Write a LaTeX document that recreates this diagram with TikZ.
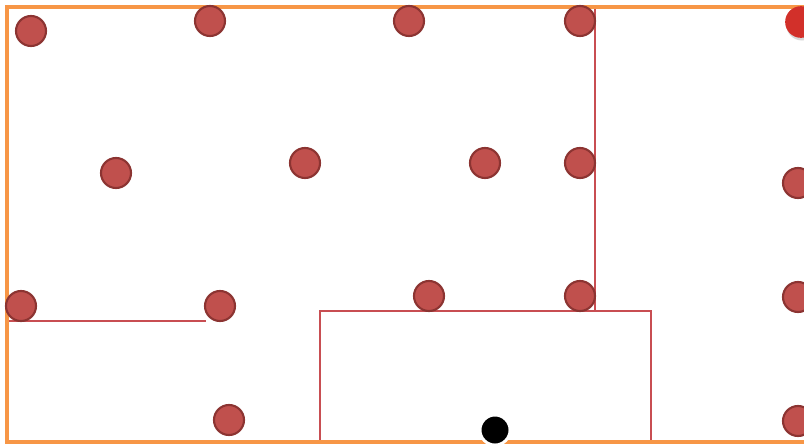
\documentclass[tikz,border=0pt]{standalone}
\usepackage{tikz}
\usetikzlibrary{shadows}
\definecolor{wallorange}{RGB}{247,150,70}
\definecolor{seatred}{RGB}{192,80,77}
\definecolor{seatdark}{RGB}{140,52,50}
\definecolor{lampred}{RGB}{210,48,42}
\definecolor{linered}{RGB}{200,78,82}
\tikzset{
    seat/.style={circle, draw=seatdark, fill=seatred, minimum size=0.9cm, inner sep=0pt, line width=1.8pt},
    lamp/.style={circle, fill=lampred, minimum size=0.95cm, inner sep=0pt, drop shadow={shadow xshift=0.03cm, shadow yshift=-0.08cm, opacity=0.3}},
    hole/.style={circle, fill=black, draw=white, minimum size=0.9cm, inner sep=0pt, line width=2.5pt},
    wall/.style={wallorange, line width=2.6pt},
    part/.style={linered, line width=1.2pt}
}
\begin{document}
\begin{tikzpicture}[x=0.03cm, y=-0.03cm]
        \clip (0,0) rectangle (804,444);
        \fill[white] (0,0) rectangle (804,444);
        % === Partitions ===
        \draw[part] (595,7) -- (595,311);
        \draw[part] (320,442) -- (320,311) -- (651,311) -- (651,442);
        \draw[part] (7,321) -- (206,321);
        % === Outer wall ===
        \draw[wall] (810,7) -- (7,7) -- (7,442) -- (810,442);
        % === Top row ===
        \node[seat] (s1) at (31,31) {};
        \node[seat] (s2) at (210,21) {};
        \node[seat] (s3) at (409,21) {};
        \node[seat] (s4) at (580,21) {};
        \node[lamp] (l1) at (801,22) {};
        % === Middle row ===
        \node[seat] (s5) at (116,173) {};
        \node[seat] (s6) at (305,163) {};
        \node[seat] (s7) at (485,163) {};
        \node[seat] (s8) at (580,163) {};
        \node[seat] (s9) at (798,183) {};
        % === Lower row ===
        \node[seat] (s10) at (21,306) {};
        \node[seat] (s11) at (220,306) {};
        \node[seat] (s12) at (429,296) {};
        \node[seat] (s13) at (580,296) {};
        \node[seat] (s14) at (798,297) {};
        % === Bottom row ===
        \node[seat] (s15) at (229,420) {};
        \node[seat] (s16) at (798,421) {};
        \node[hole] (h1) at (495,430) {};
\end{tikzpicture}
\end{document}
